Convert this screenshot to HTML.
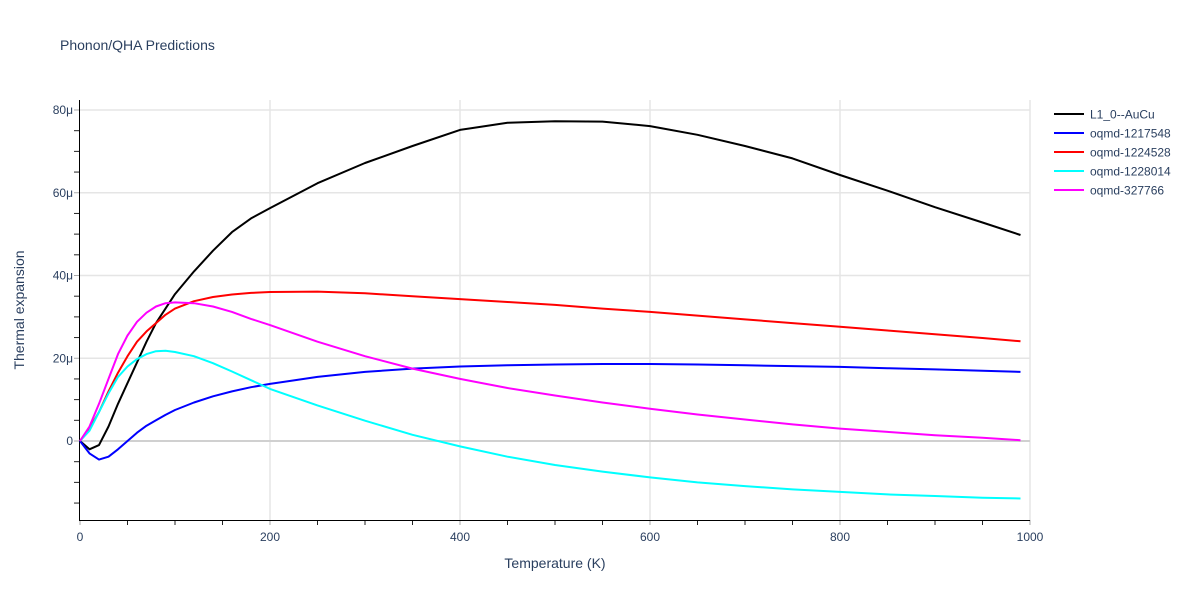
<!DOCTYPE html>
<html><head><meta charset="utf-8"><style>
body{margin:0;background:#fff;font-family:"Liberation Sans",sans-serif;}
svg text{font-family:"Liberation Sans",sans-serif;fill:#2a3f5f;}
</style></head><body>
<svg id="chart" width="1200" height="600" xmlns="http://www.w3.org/2000/svg">
<text x="60" y="50" font-size="14">Phonon/QHA Predictions</text>
<g id="grid"></g>
<g id="axes"></g>
<g id="series"></g>
<g id="legend"></g>
<text x="555" y="568" font-size="14" text-anchor="middle">Temperature (K)</text>
<text transform="translate(24,310) rotate(-90)" font-size="14" text-anchor="middle">Thermal expansion</text>
</svg>
<script>
const temps=[0,10,20,30,40,50,60,70,80,90,100,120,140,160,180,200,250,300,350,400,450,500,550,600,650,700,750,800,850,900,950,990];
const l10=[0,-2,-1,3.5,9,14,19,24,28.5,32,35.5,41,46,50.5,53.8,56.3,62.3,67.2,71.3,75.2,76.9,77.3,77.2,76.1,74,71.3,68.3,64.3,60.5,56.5,52.8,49.8];
const s1217548=[0,-3,-4.5,-3.8,-2,0,2,3.7,5,6.3,7.5,9.3,10.8,12,13,13.8,15.5,16.7,17.5,18,18.3,18.5,18.6,18.6,18.5,18.3,18.1,17.9,17.6,17.3,17,16.7];
const s1224528=[0,3,7,12,16.5,20.5,24,26.5,28.5,30.5,32,33.8,34.8,35.4,35.8,36,36.1,35.7,35,34.3,33.6,32.9,32,31.2,30.3,29.4,28.5,27.6,26.7,25.8,24.9,24.1];
const s1228014=[0,2.5,7,11.5,15.5,18,19.8,21,21.7,21.8,21.5,20.5,18.8,16.8,14.7,12.6,8.6,4.9,1.5,-1.3,-3.8,-5.8,-7.4,-8.8,-10,-10.9,-11.7,-12.3,-12.9,-13.3,-13.7,-13.9];
const s327766=[0,3.5,9,15,21,25.5,28.8,31,32.5,33.3,33.5,33.3,32.5,31.2,29.5,28,24,20.5,17.5,15,12.8,11,9.3,7.8,6.4,5.2,4,3,2.2,1.4,0.8,0.2];
const seriesNames=["L1_0--AuCu","oqmd-1217548","oqmd-1224528","oqmd-1228014","oqmd-327766"];
const xTicks=[0,200,400,600,800,1000];
const yTicks=[0,20,40,60,80];
const yLabels=["0","20μ","40μ","60μ","80μ"];

const NS="http://www.w3.org/2000/svg";
const X=t=>80+t*0.95;
const Y=v=>441-v*4.1375;
function mk(tag,attrs,parent){const e=document.createElementNS(NS,tag);for(const k in attrs)e.setAttribute(k,attrs[k]);parent.appendChild(e);return e;}
const grid=document.getElementById('grid'),axes=document.getElementById('axes'),ser=document.getElementById('series'),leg=document.getElementById('legend');
xTicks.forEach(t=>{if(t>0){const l=mk('line',{x1:X(t),x2:X(t),y1:100,y2:520,stroke:'#e5e5e5','stroke-width':1.5},grid);

}
const tx=mk('text',{x:X(t),y:541,'font-size':12,'text-anchor':'middle'},axes);tx.textContent=t;

});
for(let t=0;t<=1000;t+=50){mk('line',{x1:X(t),x2:X(t),y1:520,y2:525,stroke:t%200==0?'#aaa':'#222','stroke-width':1},axes);}
yTicks.forEach((v,i)=>{const l=mk('line',{x1:80,x2:1030,y1:Y(v),y2:Y(v),stroke:v==0?'#d0d0d0':'#e5e5e5','stroke-width':v==0?2:1.5},grid);


const tx=mk('text',{x:73,y:Y(v)+4,'font-size':12,'text-anchor':'end'},axes);tx.textContent=yLabels[i];

});
for(let v=-15;v<=80;v+=5){mk('line',{x1:74,x2:79,y1:Y(v),y2:Y(v),stroke:v%20==0?'#aaa':'#222','stroke-width':1},axes);}
mk('line',{x1:79.5,x2:79.5,y1:100,y2:520,stroke:'#000','stroke-width':1},axes);
mk('line',{x1:79,x2:1030,y1:520.5,y2:520.5,stroke:'#000','stroke-width':1},axes);
const all=[l10,s1217548,s1224528,s1228014,s327766];
const colors=['#000000','#0000ff','#ff0000','#00ffff','#ff00ff'];
all.forEach((d,i)=>{const p=mk('path',{d:d.map((v,j)=>(j?'L':'M')+X(temps[j]).toFixed(1)+','+Y(v).toFixed(1)).join(''),fill:'none',stroke:colors[i],'stroke-width':2,'stroke-linejoin':'round'},ser);


const y=114+i*19;
const g=mk('g',{},leg);


mk('line',{x1:1054,x2:1084,y1:y,y2:y,stroke:colors[i],'stroke-width':2},g);
const t=mk('text',{x:1090,y:y+4.5,'font-size':12},g);t.textContent=seriesNames[i];});
</script>
</body></html>
